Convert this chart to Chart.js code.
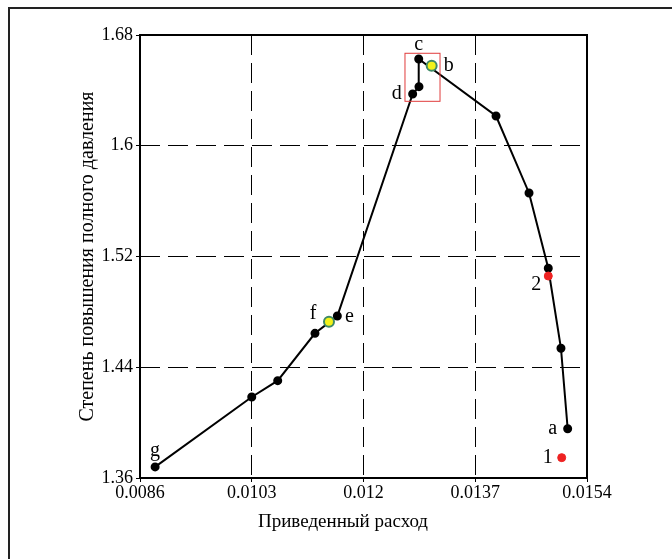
<!DOCTYPE html>
<html>
<head>
<meta charset="utf-8">
<script src="https://cdn.jsdelivr.net/npm/chart.js@4"></script>
<style>
  html, body { margin: 0; padding: 0; background: #fff; }
  canvas { display: block; }
</style>
</head>
<body>
<canvas id="chart" width="672" height="559"></canvas>
<script>
// данные кривой
var lineX = [0.00883, 0.01030, 0.010695, 0.011262, 0.011602, 0.012748, 0.012844, 0.01284, 0.014016, 0.014518, 0.014811, 0.015004, 0.015106];
var lineY = [1.368, 1.4185, 1.4303, 1.4645, 1.477, 1.6374, 1.6427, 1.6627, 1.6215, 1.5659, 1.5115, 1.4537, 1.3956];
var lineNames = ['g', '', '', '', 'e', 'd', '', 'c', '', '', '', '', 'a'];

// жёлтые точки
var yellowX = [0.011475, 0.013037];
var yellowY = [1.4729, 1.6578];
var yellowNames = ['f', 'b'];

// красные точки
var redX = [0.014811, 0.015015];
var redY = [1.5059, 1.3747];
var redNames = ['2', '1'];

// рамка выделения
var boxX = [0.012631, 0.013164];
var boxY = [1.6321, 1.6668];

var xTicks = [0.0086, 0.0103, 0.012, 0.0137, 0.0154];
var yTicks = [1.36, 1.44, 1.52, 1.6, 1.68];

var xTitle = 'Приведенный расход';
var yTitle = 'Степень повышения полного давления';

// смещения подписей (px)
var labelShift = {
  a: [-15, 0], b: [17, 0], c: [0, -14], d: [-16, 0], e: [12, 1],
  f: [-16, -8], g: [0, -16], '1': [-14, 0], '2': [-12, 9]
};

function toPoints(xs, ys) {
  return xs.map(function (x, i) { return { x: x, y: ys[i] }; });
}

var serif = '"Liberation Serif", "DejaVu Serif", serif';

var framePlugin = {
  id: 'frame',
  beforeDraw: function (chart) {
    var ctx = chart.ctx;
    ctx.save();
    ctx.fillStyle = '#fff';
    ctx.fillRect(0, 0, chart.width, chart.height);
    // внешняя рамка (слева и сверху)
    ctx.strokeStyle = '#222';
    ctx.lineWidth = 2;
    ctx.beginPath();
    ctx.moveTo(9, chart.height);
    ctx.lineTo(9, 8);
    ctx.lineTo(chart.width, 8);
    ctx.stroke();
    ctx.restore();
  },
  afterDatasetsDraw: function (chart) {
    var ctx = chart.ctx;
    var a = chart.chartArea;
    var xs = chart.scales.x, ys = chart.scales.y;
    ctx.save();
    // красный прямоугольник
    ctx.strokeStyle = '#e03c3c';
    ctx.lineWidth = 1;
    var x1 = xs.getPixelForValue(boxX[0]), x2 = xs.getPixelForValue(boxX[1]);
    var y1 = ys.getPixelForValue(boxY[1]), y2 = ys.getPixelForValue(boxY[0]);
    ctx.strokeRect(x1, y1, x2 - x1, y2 - y1);
    // рамка графика
    ctx.strokeStyle = '#000';
    ctx.lineWidth = 2;
    ctx.strokeRect(a.left, a.top, a.right - a.left, a.bottom - a.top);
    // подписи точек
    ctx.fillStyle = '#000';
    ctx.font = '20px ' + serif;
    ctx.textAlign = 'center';
    ctx.textBaseline = 'middle';
    var groups = [[0, redNames], [1, yellowNames], [2, lineNames]];
    groups.forEach(function (g) {
      var meta = chart.getDatasetMeta(g[0]);
      g[1].forEach(function (name, i) {
        if (!name) return;
        var p = meta.data[i];
        var s = labelShift[name];
        ctx.fillText(name, p.x + s[0], p.y + s[1]);
      });
    });
    // подпись оси X (сдвинута влево, как в оригинале)
    ctx.font = '19px ' + serif;
    ctx.fillText(xTitle, 343, 522);
    ctx.restore();
  }
};

new Chart(document.getElementById('chart'), {
  type: 'scatter',
  data: {
    datasets: [
      {
        data: toPoints(redX, redY),
        backgroundColor: '#ee2222',
        borderColor: '#ee2222',
        pointRadius: 4,
        showLine: false
      },
      {
        data: toPoints(yellowX, yellowY),
        backgroundColor: '#f2f21a',
        borderColor: '#3f8a66',
        borderWidth: 2,
        pointRadius: 5,
        showLine: false
      },
      {
        data: toPoints(lineX, lineY),
        backgroundColor: '#000',
        borderColor: '#000',
        borderWidth: 2,
        pointRadius: 3.5,
        showLine: true,
        tension: 0
      }
    ]
  },
  options: {
    responsive: false,
    animation: false,
    devicePixelRatio: 1,
    layout: { padding: { left: 0, right: 85, top: 35, bottom: 0 } },
    plugins: { legend: { display: false }, tooltip: { enabled: false } },
    scales: {
      x: {
        type: 'linear',
        min: xTicks[0],
        max: xTicks[xTicks.length - 1],
        afterBuildTicks: function (s) { s.ticks = xTicks.map(function (v) { return { value: v }; }); },
        afterFit: function (s) { s.height = 81; },
        ticks: {
          color: '#000',
          font: { family: serif, size: 18 },
          padding: 0,
          maxRotation: 0,
          callback: function (v) { return String(v); }
        },
        grid: { color: '#000', lineWidth: 1, drawTicks: true, tickLength: 4, tickColor: '#000', tickBorderDash: [] },
        border: { display: false, dash: [20, 8] },
        title: { display: false }
      },
      y: {
        type: 'linear',
        min: yTicks[0],
        max: yTicks[yTicks.length - 1],
        afterBuildTicks: function (s) { s.ticks = yTicks.map(function (v) { return { value: v }; }); },
        afterFit: function (s) { s.width = 140; },
        ticks: {
          color: '#000',
          font: { family: serif, size: 18 },
          padding: 3,
          callback: function (v) { return String(v); }
        },
        grid: { color: '#000', lineWidth: 1, drawTicks: true, tickLength: 4, tickColor: '#000', tickBorderDash: [] },
        border: { display: false, dash: [20, 8] },
        title: {
          display: true,
          text: yTitle,
          color: '#000',
          font: { family: serif, size: 20 },
          padding: { top: 76, bottom: 0 }
        }
      }
    }
  },
  plugins: [framePlugin]
});
</script>
</body>
</html>
